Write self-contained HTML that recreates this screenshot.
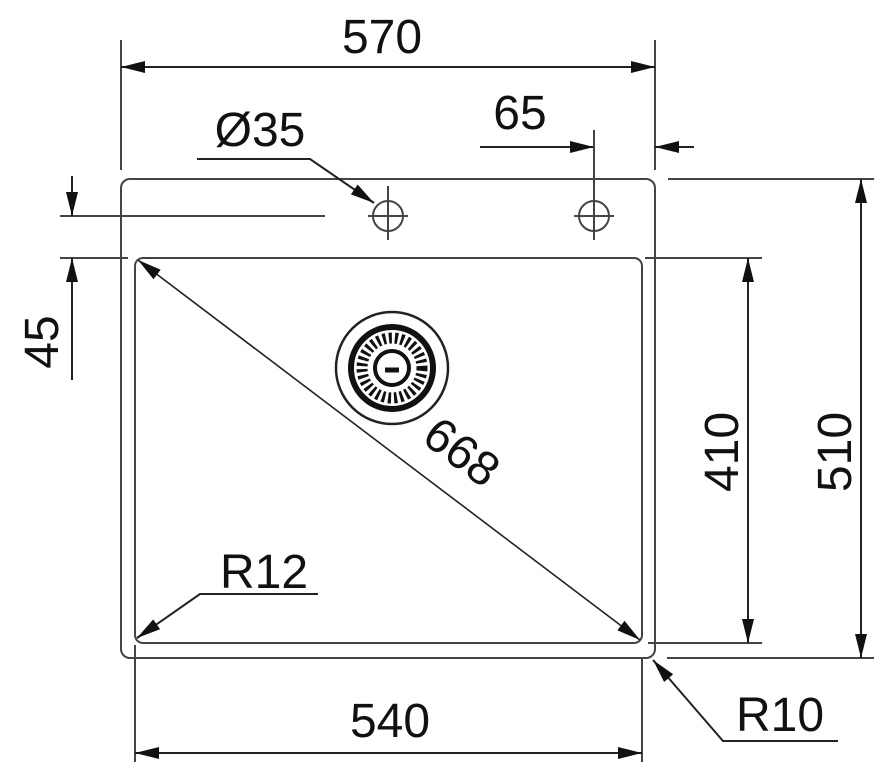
<!DOCTYPE html>
<html><head><style>html,body{margin:0;padding:0;background:#fff}svg{display:block}</style></head>
<body>
<svg width="884" height="780" viewBox="0 0 884 780" xmlns="http://www.w3.org/2000/svg" font-family="Liberation Sans, sans-serif">
<defs>
<marker id="a" viewBox="0 0 24 12" refX="24" refY="6" markerWidth="24" markerHeight="12" markerUnits="userSpaceOnUse" orient="auto-start-reverse"><path d="M0,0 L24,6 L0,12 z" fill="#111"/></marker>
</defs>
<g stroke="#444" stroke-width="2" fill="none">
<rect x="121" y="179" width="534" height="479" rx="9"/>
<rect x="135" y="258" width="507" height="385" rx="8"/>
<line x1="121" y1="40" x2="121" y2="170"/>
<line x1="655" y1="40" x2="655" y2="170"/>
<line x1="121" y1="67" x2="655" y2="67" stroke="#222" marker-start="url(#a)" marker-end="url(#a)"/>
<line x1="480" y1="147" x2="594" y2="147" stroke="#222" marker-end="url(#a)"/>
<line x1="694" y1="147" x2="655" y2="147" stroke="#222" marker-end="url(#a)"/>
<circle cx="388" cy="216" r="15"/>
<line x1="368" y1="216" x2="408" y2="216"/><line x1="388" y1="186" x2="388" y2="240"/>
<circle cx="594" cy="216" r="15"/>
<line x1="574" y1="216" x2="614" y2="216"/><line x1="594" y1="130" x2="594" y2="240"/>
<polyline points="197,159 310,159 374,203" stroke="#222" marker-end="url(#a)"/>
<line x1="60" y1="216" x2="325" y2="216"/>
<line x1="60" y1="258" x2="128" y2="258"/>
<line x1="72" y1="176" x2="72" y2="216" stroke="#222" marker-end="url(#a)"/>
<line x1="72" y1="380" x2="72" y2="258" stroke="#222" marker-end="url(#a)"/>
<line x1="645" y1="258" x2="762" y2="258"/>
<line x1="648" y1="643" x2="762" y2="643"/>
<line x1="748" y1="258" x2="748" y2="643" stroke="#222" marker-start="url(#a)" marker-end="url(#a)"/>
<line x1="668" y1="179" x2="874" y2="179"/>
<line x1="667" y1="658" x2="874" y2="658"/>
<line x1="861" y1="179" x2="861" y2="658" stroke="#222" marker-start="url(#a)" marker-end="url(#a)"/>
<line x1="135" y1="645" x2="135" y2="762"/>
<line x1="642" y1="658" x2="642" y2="762"/>
<line x1="135" y1="753" x2="642" y2="753" stroke="#222" marker-start="url(#a)" marker-end="url(#a)"/>
<line x1="138" y1="260" x2="640" y2="640" stroke="#222" stroke-width="1.6" marker-start="url(#a)" marker-end="url(#a)"/>
<polyline points="318,594 200,594 137,638" stroke="#222" marker-end="url(#a)"/>
<polyline points="838,741 723,741 653,660" stroke="#222" marker-end="url(#a)"/>
<circle cx="392" cy="368" r="56" stroke="#222" stroke-width="2.5"/>
<circle cx="392" cy="368" r="41" stroke="#111" stroke-width="6"/>
<circle cx="392" cy="368" r="30" stroke="#111" stroke-width="11" stroke-dasharray="3 3"/>
<circle cx="392" cy="368" r="17" stroke="#111" stroke-width="4"/>
<line x1="385" y1="370" x2="399" y2="370" stroke="#111" stroke-width="5"/>
</g>
<g fill="#111" font-size="48">
<text x="382" y="53" text-anchor="middle">570</text>
<text x="260" y="146" text-anchor="middle">Ø35</text>
<text x="520" y="129" text-anchor="middle">65</text>
<text x="264" y="588" text-anchor="middle">R12</text>
<text x="390" y="737" text-anchor="middle">540</text>
<text x="780" y="731" text-anchor="middle">R10</text>
<text transform="translate(58,342) rotate(-90)" text-anchor="middle">45</text>
<text transform="translate(738,452) rotate(-90)" text-anchor="middle">410</text>
<text transform="translate(851,452) rotate(-90)" text-anchor="middle">510</text>
<text transform="translate(452,465) rotate(37)" text-anchor="middle">668</text>
</g>
</svg>
</body></html>
